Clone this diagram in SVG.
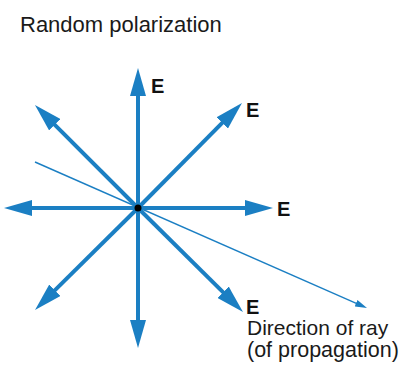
<svg xmlns="http://www.w3.org/2000/svg" width="404" height="369" viewBox="0 0 404 369">
<style>
.e{stroke:#1b7fc3;stroke-width:4;fill:none;marker-end:url(#big)}
.ray{stroke:#1b7fc3;stroke-width:1.4;fill:none;marker-end:url(#small)}
.t{font-family:"Liberation Sans",Arial,sans-serif;fill:#1a1a1a}
.lbl{font-family:"Liberation Sans",Arial,sans-serif;font-weight:bold;font-size:20px;fill:#111}
</style>
<defs>
<marker id="big" markerUnits="userSpaceOnUse" markerWidth="28" markerHeight="16" refX="8" refY="8" orient="auto" viewBox="0 0 28 16">
<path d="M0,0 L28,8 L0,16 Z" fill="#1b7fc3"/>
</marker>
<marker id="small" markerUnits="userSpaceOnUse" markerWidth="12" markerHeight="7" refX="4" refY="3.5" orient="auto" viewBox="0 0 12 7">
<path d="M0,0 L12,3.5 L0,7 Z" fill="#1b7fc3"/>
</marker>
</defs>
<rect width="404" height="369" fill="#fff"/>
<text class="t" x="20" y="32" font-size="22">Random polarization</text>
<g id="connectors">
<line class="ray" x1="35" y1="162" x2="359.7" y2="304.8"/>
<line class="e" x1="138" y1="208" x2="138" y2="88"/>
<line class="e" x1="138" y1="208" x2="138" y2="328"/>
<line class="e" x1="138" y1="208" x2="24" y2="208"/>
<line class="e" x1="138" y1="208" x2="253" y2="208"/>
<line class="e" x1="138" y1="208" x2="227.9" y2="117.2"/>
<line class="e" x1="138" y1="208" x2="49.1" y2="119.1"/>
<line class="e" x1="138" y1="208" x2="49.2" y2="295.9"/>
<line class="e" x1="138" y1="208" x2="228.8" y2="297.9"/>
</g>
<g id="origin"><circle cx="138" cy="208" r="3.5" fill="#000"/></g>
<g id="label-up"><text class="lbl" x="151" y="93">E</text></g>
<g id="label-upright"><text class="lbl" x="246" y="117">E</text></g>
<g id="label-right"><text class="lbl" x="277" y="216">E</text></g>
<g id="label-downright"><text class="lbl" x="246" y="314">E</text></g>
<g id="label-ray"><text class="t" x="247" y="335" font-size="21">Direction of ray</text><text class="t" x="247" y="357" font-size="21.5">(of propagation)</text></g>
</svg>
